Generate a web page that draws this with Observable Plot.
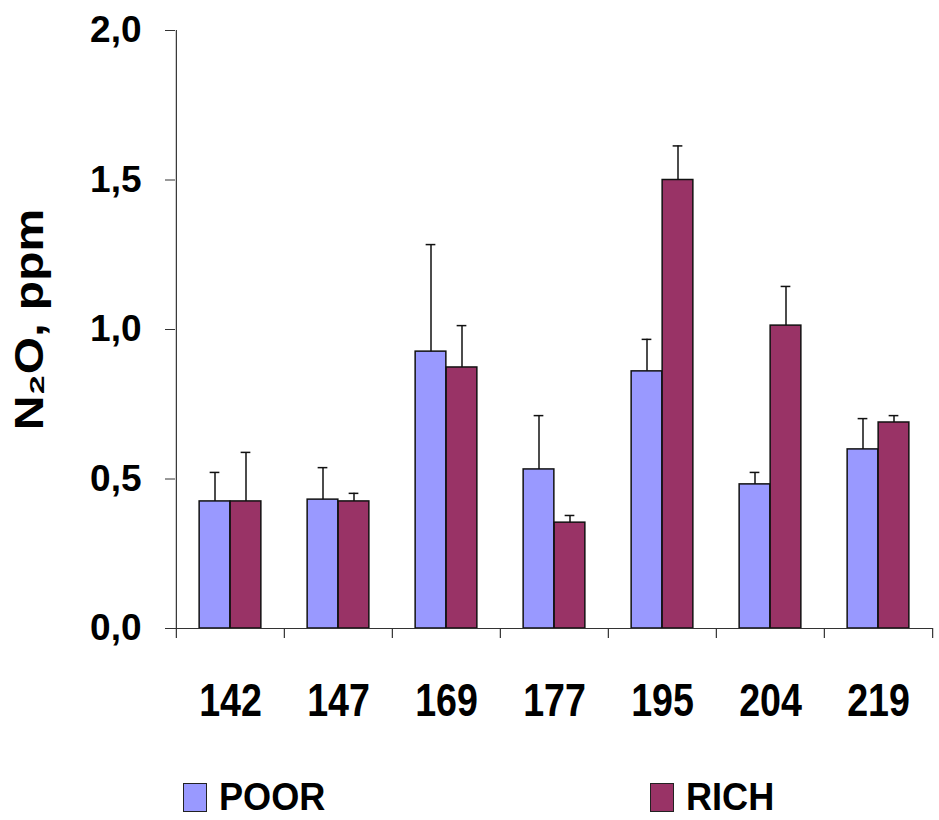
<!DOCTYPE html>
<html><head><meta charset="utf-8">
<script src="https://cdn.jsdelivr.net/npm/d3@7"></script>
<script src="https://cdn.jsdelivr.net/npm/@observablehq/plot@0.6"></script>
<style>
body{margin:0;background:#fff;font-family:"Liberation Sans",Arial,sans-serif;}
#chart svg{display:block;}
#legend{position:relative;height:50px;width:939px;}
.item{position:absolute;top:6px;display:flex;align-items:center;font-weight:bold;font-size:38px;color:#000;}
.sw{width:24px;height:29px;border:1.5px solid #222;box-sizing:border-box;margin-right:12px;flex:none;}
.item span{display:inline-block;transform:scaleX(0.95);transform-origin:left center;}
</style></head><body>
<div id="chart"></div>
<div id="legend"></div>
<script>
const categories = ["142","147","169","177","195","204","219"];
const poor     = [0.425,0.431,0.926,0.532,0.860,0.482,0.599];
const poorErr  = [0.097,0.107,0.358,0.180,0.107,0.040,0.103];
const rich     = [0.425,0.425,0.873,0.354,1.500,1.013,0.689];
const richErr  = [0.164,0.027,0.140,0.024,0.114,0.131,0.023];
const seriesNames  = ["POOR","RICH"];
const seriesColors = ["#9999FF","#993366"];
const yTicks = [0,0.5,1,1.5,2];
const yLabel = "N₂O, ppm";

const W = 939, H = 770, mL = 175, mR = 6, mT = 30, mB = 142;
const bw = (W - mL - mR) / categories.length;
const plotH = H - mT - mB;
const barW = 31;

const poorRows = categories.map((c,i)=>({cat:c, series:"POOR", value:poor[i], err:poorErr[i]}));
const richRows = categories.map((c,i)=>({cat:c, series:"RICH", value:rich[i], err:richErr[i]}));
const axisColor = "#333";

const chart = Plot.plot({
  width: W, height: H,
  marginLeft: mL, marginRight: mR, marginTop: mT, marginBottom: mB,
  style: {fontFamily: '"Liberation Sans", Arial, sans-serif', fontWeight: "bold", color: "#000", background: "#fff"},
  x: {domain: categories, padding: 0, axis: null},
  y: {domain: [0, 2], axis: null},
  color: {domain: seriesNames, range: seriesColors},
  marks: [
    Plot.barY(poorRows, {x: "cat", y: "value", fill: "series", stroke: "#111", strokeWidth: 1.5, insetLeft: bw/2 - barW, insetRight: bw/2}),
    Plot.barY(richRows, {x: "cat", y: "value", fill: "series", stroke: "#111", strokeWidth: 1.5, insetLeft: bw/2, insetRight: bw/2 - barW}),
    Plot.ruleX(poorRows, {x: "cat", y1: "value", y2: d => d.value + d.err, dx: -barW/2, stroke: "#111", strokeWidth: 1.5}),
    Plot.ruleX(richRows, {x: "cat", y1: "value", y2: d => d.value + d.err, dx: barW/2, stroke: "#111", strokeWidth: 1.5}),
    Plot.tickY(poorRows, {x: "cat", y: d => d.value + d.err, dx: -barW/2, insetLeft: bw/2 - 5, insetRight: bw/2 - 5, stroke: "#111", strokeWidth: 1.5}),
    Plot.tickY(richRows, {x: "cat", y: d => d.value + d.err, dx: barW/2, insetLeft: bw/2 - 5, insetRight: bw/2 - 5, stroke: "#111", strokeWidth: 1.5}),
    // axis lines
    Plot.ruleX([categories[0]], {x: d => d, dx: -bw/2, stroke: axisColor, strokeWidth: 1.2}),
    Plot.ruleY([0], {stroke: axisColor, strokeWidth: 1.2}),
    // category boundary ticks
    Plot.ruleX(categories, {x: d => d, dx: -bw/2, insetTop: plotH, insetBottom: -10, stroke: axisColor, strokeWidth: 1.2}),
    Plot.ruleX([categories[categories.length-1]], {x: d => d, dx: bw/2, insetTop: plotH, insetBottom: -10, stroke: axisColor, strokeWidth: 1.2}),
    Plot.axisY(yTicks, {tickSize: 10, tickPadding: 24, tickFormat: d => d.toFixed(1).replace(".", ","), fontSize: 37, fontWeight: "bold", label: null, stroke: axisColor}),
    Plot.axisX({tickSize: 0, tickPadding: 54, fontSize: 47, fontWeight: "bold", label: null}),
    Plot.text([yLabel], {text: d => d, frameAnchor: "left", rotate: -90, textAnchor: "middle", dx: -145, dy: -10, fontSize: 40, fontWeight: "bold", fill: "#000"})
  ]
});
document.getElementById("chart").appendChild(chart);

// narrow the category labels horizontally (reference uses a condensed face)
chart.querySelectorAll('g[aria-label="x-axis tick label"] text').forEach(t => {
  const tr = t.getAttribute("transform") || "";
  t.setAttribute("transform", tr + " scale(0.8,1)");
});
// lengthen the rotated axis title along its baseline
chart.querySelectorAll('g[aria-label="text"] text').forEach(t => {
  const tr = t.getAttribute("transform") || "";
  t.setAttribute("transform", tr + " scale(1.2,1)");
});

const legend = document.getElementById("legend");
const legendLeft = [183, 650];
seriesNames.forEach((s,i) => {
  const it = document.createElement("div");
  it.className = "item";
  it.style.left = legendLeft[i] + "px";
  const sw = document.createElement("div");
  sw.className = "sw";
  sw.style.background = seriesColors[i];
  it.appendChild(sw);
  const t = document.createElement("span");
  t.textContent = s;
  it.appendChild(t);
  legend.appendChild(it);
});
</script>
</body></html>
